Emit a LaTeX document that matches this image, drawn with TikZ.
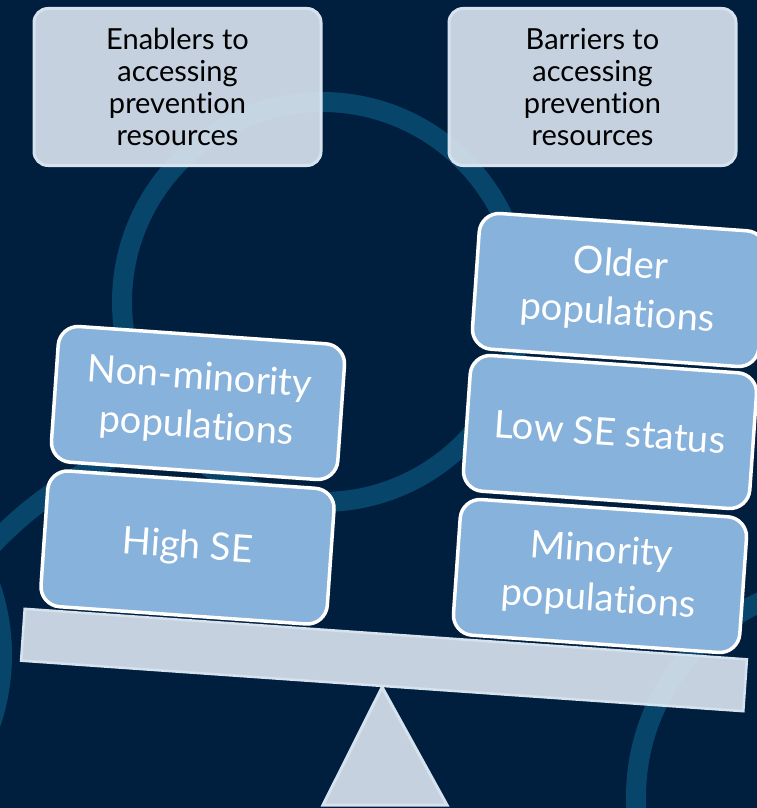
\documentclass[tikz,border=0pt]{standalone}
\usepackage{fontspec}
\setmainfont{Lato}[Ligatures=NoCommon]
\usetikzlibrary{positioning}

\definecolor{navybg}{RGB}{0,30,62}
\definecolor{ringblue}{RGB}{7,69,107}
\definecolor{panelfill}{RGB}{219,229,240}
\definecolor{paneledge}{RGB}{214,226,238}
\definecolor{blockblue}{RGB}{135,178,219}

\tikzset{
  ring/.style={draw=ringblue, line width=20pt},
  headbox/.style={draw=paneledge, line width=3pt, fill=panelfill, fill opacity=0.9, text opacity=1,
    rounded corners=14pt, minimum width=287pt, minimum height=157pt, align=center,
    text=black, font=\fontsize{29}{32}\selectfont},
  groupbox/.style={draw=white, line width=3.5pt, fill=blockblue, rounded corners=20pt,
    minimum width=287pt, minimum height=136pt, align=center, rotate=-4,
    text=white, font=\fontsize{38}{49}\selectfont},
  beambar/.style={draw=paneledge, line width=2.5pt, fill=panelfill, fill opacity=0.9,
    minimum width=724pt, minimum height=52pt, inner sep=0pt, rotate=-4},
  fulcrum/.style={draw=paneledge, line width=3pt, fill=panelfill, fill opacity=0.9}
}

\begin{document}
\begin{tikzpicture}[x=1pt, y=-1pt]
% Canvas
\useasboundingbox (0,0) rectangle (757,808);
\fill[navybg] (0,0) rectangle (757,808);

% Background rings
\begin{scope}
\clip (0,0) rectangle (757,808);
\draw[ring] (322,302) circle[radius=200pt];
\draw[ring] (-210,655) circle[radius=212pt];
\draw[ring] (851,797) circle[radius=215pt];
\draw[ring] (278.5,815.5) ++(137:394pt) arc[start angle=137, end angle=98, radius=394pt];
\end{scope}

% Headings
\node[headbox] (enablers) at (177.5,87) {Enablers to\\accessing\\prevention\\resources};
\node[headbox] (barriers) at (592.5,87) {Barriers to\\accessing\\prevention\\resources};

% Scale
\node[beambar] (beam) at (384,660) {};
\draw[fulcrum] (beam.south) -- (447,805) -- (323,805) -- cycle;

% Enablers (left pan)
\node[groupbox] (highse) at (187.5,547.5) {High SE};
\node[groupbox] (nonminority) at (198,403) {Non-minority\\populations};

% Barriers (right pan)
\node[groupbox] (minority) at (600,576) {Minority\\populations};
\node[groupbox] (lowse) at (610,432) {Low SE status};
\node[groupbox] (older) at (619,290) {Older\\populations};
\end{tikzpicture}
\end{document}
